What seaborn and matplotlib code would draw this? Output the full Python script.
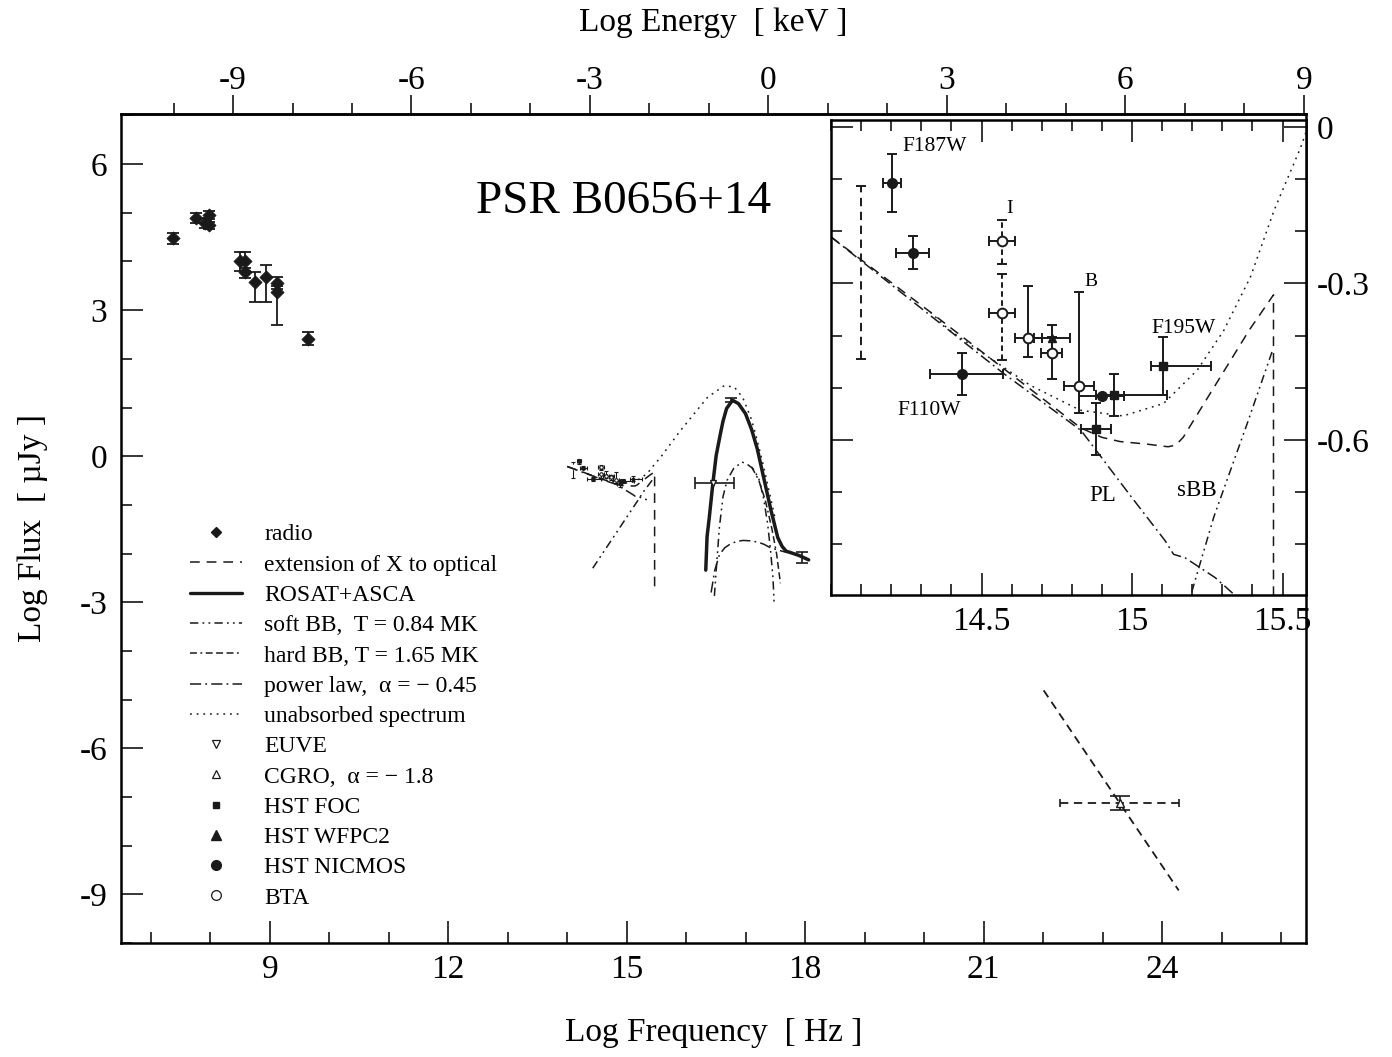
import numpy as np
import matplotlib
matplotlib.use("Agg")
import matplotlib.pyplot as plt
from matplotlib.lines import Line2D
from matplotlib.ticker import MultipleLocator
import seaborn as sns

# ---- radio pulses (log nu, log flux, asym. errors)
radio_lognu = [7.378, 7.765, 7.911, 7.978, 7.978, 8.494, 8.583, 8.583, 8.751, 8.936, 9.126, 9.126, 9.647]
radio_flux = [4.475, 4.89, 4.79, 4.96, 4.74, 4.0, 4.0, 3.79, 3.587, 3.69, 3.553, 3.37, 2.414]
radio_err_lo = [0.11, 0.1, 0.1, 0.08, 0.08, 0.19, 0.19, 0.12, 0.42, 0.53, 0.12, 0.67, 0.13]
radio_err_hi = [0.11, 0.1, 0.1, 0.08, 0.08, 0.19, 0.19, 0.08, 0.2, 0.23, 0.12, 0.12, 0.13]

# ---- optical / IR / UV points
nicmos_x = [14.203, 14.272, 14.435, 14.90]
nicmos_y = [-0.108, -0.241, -0.474, -0.516]
nicmos_xlo = [0.03, 0.055, 0.105, 0.075]
nicmos_xhi = [0.03, 0.055, 0.135, 0.075]
nicmos_yerr = [0.055, 0.031, 0.04, 0.0]

foc_x = [14.88, 14.941, 15.104]
foc_y = [-0.579, -0.514, -0.458]
foc_xlo = [0.049, 0.06, 0.04]
foc_xhi = [0.049, 0.175, 0.16]
foc_yerr = [0.049, 0.04, 0.055]

wfpc2_x = [14.733]
wfpc2_y = [-0.405]
wfpc2_xlo = [0.06]
wfpc2_xhi = [0.061]
wfpc2_yerr = [0.025]

bta_x = [14.655, 14.733, 14.825]
bta_y = [-0.405, -0.433, -0.497]
bta_xerr = [0.045, 0.035, 0.05]
bta_ylo = [0.036, 0.05, 0.051]
bta_yhi = [0.10, 0.03, 0.181]

# BTA I band, dashed error bars
btaI_x = [14.569, 14.569]
btaI_y = [-0.219, -0.356]
btaI_xerr = [0.043, 0.043]
btaI_ylo = [0.044, 0.091]
btaI_yhi = [0.04, 0.074]

# dashed range at the left of the inset
lim_x = [14.1]
lim_y = [-0.279]
lim_yerr = [0.165]

# ---- EUVE
euve_x = [16.45]
euve_y = [-0.547]
euve_xlo = [0.305]
euve_xhi = [0.36]

# ---- ROSAT+ASCA
rosat_x = [16.33, 16.352, 16.39, 16.45, 16.505, 16.577, 16.62, 16.68, 16.78, 16.88, 16.997,
           17.1, 17.195, 17.3, 17.425, 17.54, 17.612, 17.68, 17.78, 17.9, 18.06]
rosat_y = [-2.34, -1.65, -1.25, -0.55, 0.015, 0.467, 0.72, 0.98, 1.15, 1.08, 0.876,
           0.55, 0.155, -0.42, -1.105, -1.67, -1.85, -1.95, -1.99, -2.04, -2.13]
rosat_pts_x = [16.76, 17.94]
rosat_pts_y = [1.16, -2.08]
rosat_pts_err = [0.04, 0.12]

# ---- model curves
ext_x = [14.0, 14.33, 14.6, 14.83, 14.9, 14.96, 15.05, 15.12, 15.145, 15.17, 15.25, 15.39, 15.47, 15.47]
ext_y = [-0.211, -0.355, -0.475, -0.577, -0.595, -0.603, -0.608, -0.613, -0.61, -0.595, -0.52, -0.389, -0.322, -2.72]

pl_opt_x = [14.0, 14.572, 14.831, 14.999, 15.11, 15.138, 15.177, 15.277, 15.339]
pl_opt_y = [-0.211, -0.472, -0.582, -0.71, -0.793, -0.819, -0.826, -0.864, -0.896]
pl_x_x = [16.42, 16.48, 16.56, 16.65, 16.735, 16.85, 16.96, 17.1, 17.22, 17.31, 17.4, 17.55, 17.7]
pl_x_y = [-2.8, -2.35, -2.02, -1.88, -1.81, -1.75, -1.73, -1.74, -1.77, -1.81, -1.87, -1.93, -1.98]

sbb_opt_x = [14.43, 15.2, 15.272, 15.383, 15.467]
sbb_opt_y = [-2.3, -0.888, -0.747, -0.568, -0.428]
sbb_x_x = [16.475, 16.52, 16.56, 16.62, 16.69, 16.8, 16.94, 17.02, 17.12, 17.22, 17.3, 17.37, 17.42, 17.46, 17.48]
sbb_x_y = [-2.87, -2.1, -1.45, -0.83, -0.49, -0.25, -0.12, -0.16, -0.25, -0.45, -0.85, -1.39, -1.95, -2.5, -3.04]

hbb_x = [17.1, 17.22, 17.33, 17.44, 17.52, 17.585]
hbb_y = [-0.22, -0.49, -0.9, -1.48, -2.0, -2.61]

unabs_x = [14.33, 14.394, 14.5, 14.661, 14.828, 14.97, 15.105, 15.217, 15.305, 15.394, 15.472, 15.56,
           15.73, 15.90, 16.13, 16.36, 16.64, 16.81, 16.95, 17.1, 17.2, 17.3, 17.4, 17.5]
unabs_y = [-0.355, -0.39, -0.432, -0.495, -0.543, -0.554, -0.530, -0.466, -0.39, -0.287, -0.16, -0.04,
           0.24, 0.52, 0.865, 1.21, 1.45, 1.42, 1.21, 0.75, 0.3, -0.2, -0.75, -1.3]

# ---- gamma rays
gam_x = [22.01, 24.28]
gam_y = [-4.81, -8.92]
cgro_x = [23.29]
cgro_y = [-7.13]
cgro_xerr = [1.0]
cgro_yerr = [0.14]

# ---- labels
legend_labels = ['radio', 'extension of X to optical', 'ROSAT+ASCA', 'soft BB,  T = 0.84 MK',
                 'hard BB, T = 1.65 MK', 'power law,  α = − 0.45', 'unabsorbed spectrum',
                 'EUVE', 'CGRO,  α = − 1.8', 'HST FOC', 'HST WFPC2', 'HST NICMOS', 'BTA']
inset_notes = [('F187W', 14.344, -0.038, 15.5), ('I', 14.594, -0.156, 14), ('B', 14.864, -0.297, 14),
               ('F195W', 15.171, -0.386, 15.5), ('F110W', 14.327, -0.543, 15.5),
               ('PL', 14.904, -0.706, 16.5), ('sBB', 15.215, -0.696, 16.5)]

LS_EXT = (0, (7, 5))
LS_SBB = (0, (6, 3, 1.3, 3, 1.3, 3))
LS_HBB = (0, (5, 2.5, 1.3, 2.5, 5, 2.5, 5, 2.5))
LS_PL = (0, (8, 3, 1.3, 3))
LS_DOT = (0, (1.3, 3.5))

sns.set_theme(style="ticks")
plt.rcParams['font.family'] = ['Liberation Serif', 'DejaVu Serif']
plt.rcParams['axes.unicode_minus'] = False
plt.rcParams['lines.scale_dashes'] = False
plt.rcParams['axes.edgecolor'] = 'black'
plt.rcParams['xtick.color'] = 'black'
plt.rcParams['ytick.color'] = 'black'
plt.rcParams['text.color'] = 'black'
plt.rcParams['axes.labelcolor'] = 'black'
plt.rcParams['axes.linewidth'] = 1.8

fig = plt.figure(figsize=(13.92, 10.57), dpi=100)
ax = fig.add_axes([121 / 1392, 1 - 943 / 1057, 1185 / 1392, 829 / 1057])


def curve(a, x, y, ls, lw=1.1):
    sns.lineplot(x=x, y=y, ax=a, color='k', lw=lw, linestyle=ls, sort=False,
                 estimator=None, legend=False)


def draw_models(a):
    curve(a, ext_x, ext_y, LS_EXT)
    curve(a, pl_opt_x, pl_opt_y, LS_PL)
    curve(a, sbb_opt_x, sbb_opt_y, LS_SBB)
    curve(a, unabs_x, unabs_y, LS_DOT)


def draw_optical(a, ms, cap, elw):
    kw = dict(color='k', ecolor='k', elinewidth=elw, capsize=cap, capthick=elw, linestyle='none')
    a.errorbar(nicmos_x, nicmos_y, xerr=[nicmos_xlo, nicmos_xhi], yerr=nicmos_yerr,
               fmt='o', ms=ms, **kw)
    a.errorbar(foc_x, foc_y, xerr=[foc_xlo, foc_xhi], yerr=foc_yerr, fmt='s', ms=ms * 0.75, **kw)
    a.errorbar(wfpc2_x, wfpc2_y, xerr=[wfpc2_xlo, wfpc2_xhi], yerr=wfpc2_yerr,
               fmt='^', ms=ms * 0.9, **kw)
    a.errorbar(bta_x, bta_y, xerr=bta_xerr, yerr=[bta_ylo, bta_yhi], fmt='o', ms=ms,
               mfc='white', mec='k', mew=elw, **kw)
    a.errorbar(btaI_x, btaI_y, xerr=btaI_xerr, fmt='o', ms=ms, mfc='white', mec='k', mew=elw, **kw)
    eb = a.errorbar(btaI_x, btaI_y, yerr=[btaI_ylo, btaI_yhi], fmt='none', **kw)
    eb.lines[2][0].set_linestyle((0, (4, 2.5)))
    eb = a.errorbar(lim_x, lim_y, yerr=lim_yerr, fmt='none', **kw)
    eb.lines[2][0].set_linestyle((0, (6, 4)))


# ---------------- main panel
sns.scatterplot(x=radio_lognu, y=radio_flux, ax=ax, marker='D', s=45, color='k', edgecolor='k', zorder=3)
ax.errorbar(radio_lognu, radio_flux, yerr=[radio_err_lo, radio_err_hi], fmt='none', ecolor='k',
            elinewidth=1.3, capsize=4, capthick=1.3)

draw_models(ax)
draw_optical(ax, ms=2.5, cap=1.5, elw=0.8)

curve(ax, rosat_x, rosat_y, '-', lw=2.5)
ax.errorbar(rosat_pts_x, rosat_pts_y, yerr=rosat_pts_err, fmt='none', ecolor='k', elinewidth=1.2,
            capsize=4, capthick=1.2)
curve(ax, sbb_x_x, sbb_x_y, LS_SBB)
curve(ax, hbb_x, hbb_y, LS_HBB)
curve(ax, pl_x_x, pl_x_y, LS_PL)

ax.errorbar(euve_x, euve_y, xerr=[euve_xlo, euve_xhi], fmt='v', ms=5, mfc='white', mec='k',
            color='k', elinewidth=1.2, capsize=4, capthick=1.2)

curve(ax, gam_x, gam_y, (0, (6, 4)), lw=1.3)
eb = ax.errorbar(cgro_x, cgro_y, xerr=cgro_xerr, fmt='^', ms=6, mfc='white', mec='k', color='k',
                 elinewidth=1.3, capsize=3, capthick=1.2)
eb.lines[2][0].set_linestyle((0, (6, 4)))
ax.errorbar(cgro_x, cgro_y, yerr=cgro_yerr, fmt='none', ecolor='k', elinewidth=1.2, capsize=7, capthick=1.2)

ax.set_xlim(6.5, 26.42)
ax.set_ylim(-10.0, 7.03)
ax.set_xticks(range(9, 25, 3))
ax.set_yticks(range(-9, 7, 3))
ax.xaxis.set_minor_locator(MultipleLocator(1))
ax.yaxis.set_minor_locator(MultipleLocator(1))
ax.tick_params(which='both', direction='in', top=False, right=False, width=1.1)
ax.tick_params(which='major', length=16, labelsize=24, pad=8)
ax.tick_params(axis='y', which='major', pad=10)
ax.tick_params(which='minor', length=8)

ax.set_xlabel('Log Frequency  [ Hz ]', fontsize=24)
ax.xaxis.set_label_coords(0.5, -0.09)
ax.set_ylabel('Log Flux  [ µJy ]', fontsize=24)
ax.yaxis.set_label_coords(-0.062, 0.5)

secax = ax.secondary_xaxis('top', functions=(lambda x: x - 17.383, lambda e: e + 17.383))
secax.set_xticks(range(-9, 10, 3))
secax.xaxis.set_minor_locator(MultipleLocator(1))
secax.tick_params(which='both', direction='out', width=1.1)
secax.tick_params(which='major', length=14, labelsize=24, pad=-1)
secax.tick_params(which='minor', length=8)
secax.set_xlabel('Log Energy  [ keV ]', fontsize=24)
secax.xaxis.set_label_coords(0.5, 1.1, transform=ax.transAxes)

ax.text(0.4245, 0.894, 'PSR B0656+14', transform=ax.transAxes, fontsize=34, ha='center', va='center')

# legend
dash_kw = dict(color='k', lw=1.1)
handles = [
    Line2D([], [], ls='none', marker='D', ms=5, color='k'),
    Line2D([], [], ls=LS_EXT, **dash_kw),
    Line2D([], [], ls='-', color='k', lw=2.4),
    Line2D([], [], ls=LS_SBB, **dash_kw),
    Line2D([], [], ls=LS_HBB, **dash_kw),
    Line2D([], [], ls=LS_PL, **dash_kw),
    Line2D([], [], ls=LS_DOT, **dash_kw),
    Line2D([], [], ls='none', marker='v', ms=6, mfc='white', mec='k', mew=0.9),
    Line2D([], [], ls='none', marker='^', ms=6, mfc='white', mec='k', mew=0.9),
    Line2D([], [], ls='none', marker='s', ms=5, color='k'),
    Line2D([], [], ls='none', marker='^', ms=7, color='k'),
    Line2D([], [], ls='none', marker='o', ms=7, color='k'),
    Line2D([], [], ls='none', marker='o', ms=7, mfc='white', mec='k', mew=0.9),
]
ax.legend(handles, legend_labels, loc='upper left', bbox_to_anchor=(0.058, 0.5055), frameon=False,
          fontsize=17, handlelength=2.2, handletextpad=0.95, labelspacing=0.37, borderpad=0,
          borderaxespad=0)

# ---------------- inset
axi = fig.add_axes([831 / 1392, 1 - 595 / 1057, 475 / 1392, 475 / 1057])
axi.set_facecolor('white')
draw_models(axi)
draw_optical(axi, ms=7, cap=3.5, elw=1.4)
axi.set_xlim(14.0, 15.578)
axi.set_ylim(-0.897, 0.013)
axi.set_xticks([14.5, 15, 15.5], ['14.5', '15', '15.5'])
axi.set_yticks([0, -0.3, -0.6], ['0', '-0.3', '-0.6'])
axi.xaxis.set_minor_locator(MultipleLocator(0.1))
axi.yaxis.set_minor_locator(MultipleLocator(0.1))
axi.tick_params(which='both', direction='in', top=True, bottom=True, left=True, right=True,
                labelleft=False, labelright=True, width=1.1)
axi.tick_params(which='major', length=16, labelsize=24, pad=8)
axi.tick_params(which='minor', length=8)
for txt, x, y, fs in inset_notes:
    axi.text(x, y, txt, fontsize=fs, ha='center', va='center')

fig.savefig('out.png', dpi=100)
